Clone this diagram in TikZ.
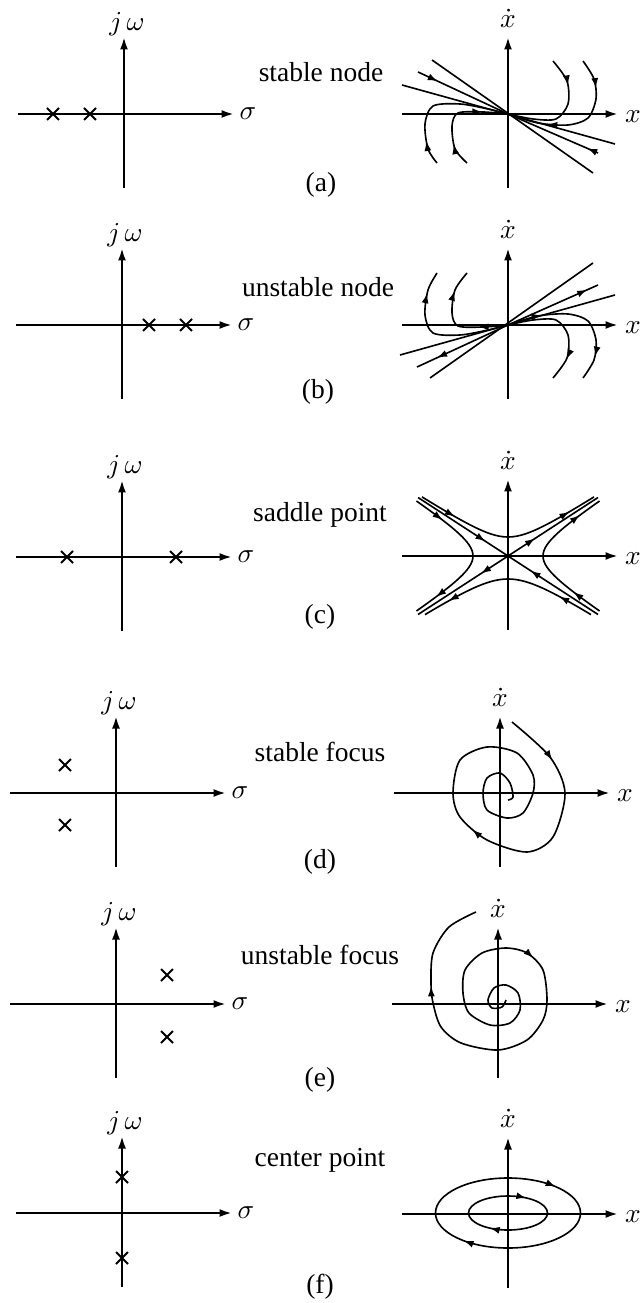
\documentclass[tikz,border=0pt]{standalone}
\usepackage{fontspec}
\setmainfont{Liberation Serif}
\usetikzlibrary{arrows.meta, decorations.markings}

\tikzset{
	axis/.style={line width=0.9pt, -{Latex[length=5pt,width=3.2pt]}},
	traj/.style={line width=0.65pt},
	pole/.style={line width=0.8pt},
	flow/.style={postaction={decorate, decoration={markings,
		mark=at position #1 with {\arrow{Latex[length=4pt,width=2.8pt]}}}}},
	lbl/.style={font=\fontsize{11}{13}\selectfont, inner sep=0pt},
}

\begin{document}
\begin{tikzpicture}[x=0.4pt, y=-0.4pt]
	\useasboundingbox (0,0) rectangle (640,1303);
	% s-plane and phase plane axes, one row per case
	\foreach \lx/\ly/\rx/\ry in {124/114/508/114, 122/325/508/325, 122/557/508/556,
		116/793/500/793, 116/1004/498/1004, 122/1213/508/1214} {
		\draw[axis] (\lx-106,\ly) -- (\lx+110,\ly);
		\draw[axis] (\lx,\ly+74) -- (\lx,\ly-77);
		\node[lbl] (sig\ly) at (\lx+124,\ly) {$\sigma$};
		\node[lbl] (jw\ly) at (\lx+3,\ly-90) {$j\,\omega$};
		\draw[axis] (\rx-106,\ry) -- (\rx+110,\ry);
		\draw[axis] (\rx,\ry+74) -- (\rx,\ry-77);
		\node[lbl] (x\ry) at (\rx+125,\ry+3) {$x$};
		\node[lbl, anchor=south] (xd\ry) at (\rx,\ry-86) {$\dot{x}$};
	}
	% poles
	\foreach \px/\py in {53/114, 90/114, 149/325, 186/325, 67/557, 176/557,
		65/765, 65/825, 167/975, 167/1037, 122/1177, 122/1258}
	\draw[pole] (\px-6,\py-6) -- (\px+6,\py+6) (\px-6,\py+6) -- (\px+6,\py-6);
	% names and tags
	\node[lbl] (na) at (321,72) {stable node};
	\node[lbl] (ta) at (321,185) {(a)};
	\node[lbl] (nb) at (318,287) {unstable node};
	\node[lbl] (tb) at (318,392) {(b)};
	\node[lbl] (nc) at (320,515) {saddle point};
	\node[lbl] (tc) at (320,617) {(c)};
	\node[lbl] (nd) at (320,752) {stable focus};
	\node[lbl] (td) at (320,862) {(d)};
	\node[lbl] (ne) at (320,955) {unstable focus};
	\node[lbl] (te) at (320,1080) {(e)};
	\node[lbl] (nf) at (320,1160) {center point};
	\node[lbl] (tf) at (320,1287) {(f)};

	% (a) stable node
	\begin{scope}[shift={(508,114)}]
		\draw[traj] (-76,-54) -- (85,59);
		\draw[traj] (-106,-29) -- (107,30);
		\draw[traj, flow=0.22] (-90,-42) -- (0,0);
		\draw[traj, flow=0.12] (90,39) -- (0,0);
		\draw[traj, flow=0.18] plot[smooth] coordinates {(-71,49) (-80,35) (-83,10) (-75,-8) (-48,-10) (-20,-5) (0,0)};
		\draw[traj, flow=0.22, flow=0.76] plot[smooth] coordinates {(-41,49) (-53,35) (-56,12) (-50,-1) (-25,-2) (0,0)};
		\draw[traj, flow=0.25] plot[smooth] coordinates {(45,-53) (59,-33) (60,-10) (48,5) (25,5) (0,0)};
		\draw[traj, flow=0.21, flow=0.72] plot[smooth] coordinates {(75,-53) (86,-35) (88,-15) (80,4) (60,11) (30,9) (0,0)};
	\end{scope}

	% (b) unstable node
	\begin{scope}[shift={(508,325)}]
		\draw[traj] (-78,53) -- (85,-62);
		\draw[traj] (-108,30) -- (107,-30);
		\draw[traj, flow=0.78] (0,0) -- (-91,42);
		\draw[traj, flow=0.88] (0,0) -- (90,-40);
		\draw[traj, flow=0.84] plot[smooth] coordinates {(0,0) (-20,5) (-48,10) (-75,8) (-83,-10) (-80,-35) (-71,-52)};
		\draw[traj, flow=0.27, flow=0.8] plot[smooth] coordinates {(0,0) (-25,2) (-50,1) (-56,-12) (-53,-35) (-41,-52)};
		\draw[traj, flow=0.8] plot[smooth] coordinates {(0,0) (25,-5) (48,-5) (60,10) (59,33) (45,53)};
		\draw[traj, flow=0.24, flow=0.83] plot[smooth] coordinates {(0,0) (30,-9) (60,-11) (80,-4) (88,15) (86,35) (75,53)};
	\end{scope}

	% (c) saddle point
	\begin{scope}[shift={(508,556)}]
		\draw[traj, flow=0.75] (-90,-58.5) -- (0,0);
		\draw[traj, flow=0.75] (90,58.5) -- (0,0);
		\draw[traj, flow=0.3] (0,0) -- (90,-58.5);
		\draw[traj, flow=0.3] (0,0) -- (-90,58.5);
		\draw[traj, flow=0.2, flow=0.85] plot[domain=-86:86, samples=41] (\x, {-19*sqrt(1+(\x/29.2)^2)});
		\draw[traj, flow=0.2, flow=0.85] plot[domain=83:-83, samples=41] (\x, {23*sqrt(1+(\x/35.4)^2)});
		\draw[traj, flow=0.2, flow=0.85] plot[domain=-55:55, samples=41] ({-35*sqrt(1+(\x/22.75)^2)}, \x);
		\draw[traj, flow=0.2, flow=0.85] plot[domain=55:-55, samples=41] ({35*sqrt(1+(\x/22.75)^2)}, \x);
	\end{scope}

	% (d) stable focus
	\begin{scope}[shift={(500,793)}]
		\draw[traj, flow=0.1, flow=0.41] plot[smooth] coordinates {(12,-71) (50,-36) (65,0) (53,44) (27,59) (-13,47) (-40,24) (-47,0) (-40,-33) (-13,-46) (17,-40) (33,-18) (33,0) (23,20) (7,25) (-13,17) (-17,0) (-13,-15) (0,-20) (10,-10) (13,4) (8,7)};
	\end{scope}

	% (e) unstable focus
	\begin{scope}[shift={(498,1004)}]
		\draw[traj, flow=0.455, flow=0.84] plot[smooth] coordinates {(8,-4) (4,3) (-6,4) (-10,-4) (-4,-16) (8,-19) (20,-11) (22,6) (12,19) (-8,21) (-29,9) (-35,-11) (-33,-34) (-16,-51) (8,-56) (29,-51) (45,-34) (49,-4) (45,16) (29,36) (0,46) (-37,39) (-57,23) (-65,-1) (-67,-21) (-65,-51) (-49,-77) (-22,-92)};
	\end{scope}

	% (f) center point
	\begin{scope}[shift={(508,1214)}]
		\draw[traj, flow=0.38, flow=0.89] (0,-1) ellipse [x radius=72.5, y radius=35];
		\draw[traj, flow=0.35, flow=0.85] (0,-1) ellipse [x radius=39.5, y radius=17];
	\end{scope}
\end{tikzpicture}
\end{document}
